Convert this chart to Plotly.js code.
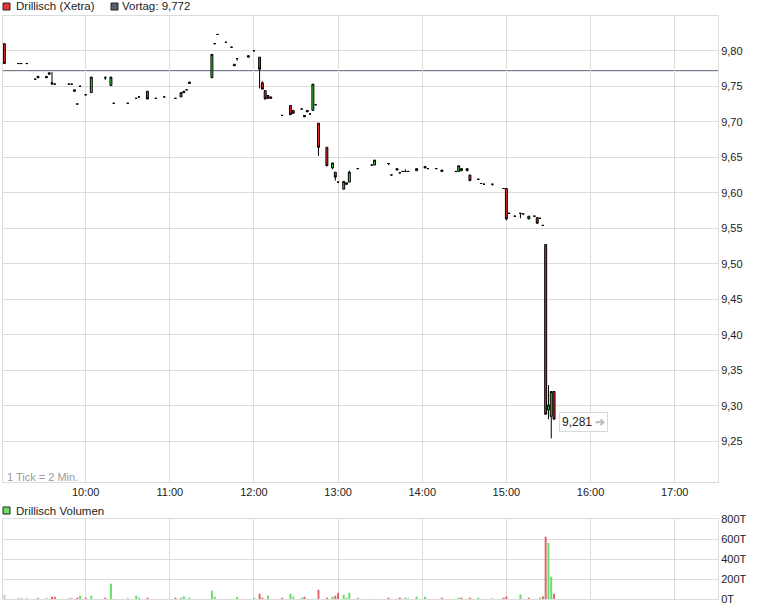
<!DOCTYPE html>
<html>
<head>
<meta charset="utf-8">
<script src="https://cdn.plot.ly/plotly-3.0.1.min.js"></script>
<style>
  html, body { margin: 0; padding: 0; background: #fff; }
  #chart { width: 760px; height: 608px; }
</style>
</head>
<body>
<div id="chart"></div>
<script>
// Drillisch (Xetra), 2-min candles
const day = '2012-06-01 ';
const prevClose = 9.772;

const times = [
  "09:02","09:12","09:14","09:18","09:24","09:26","09:32","09:34","09:36","09:38",
  "09:48","09:50","09:52","09:54","09:56","10:00","10:04","10:14","10:18","10:20",
  "10:30","10:36","10:38","10:44","10:50","10:56","11:04","11:08","11:10","11:12",
  "11:14","11:30","11:32","11:34","11:40","11:44","11:46","11:48","11:56","12:00",
  "12:04","12:06","12:08","12:10","12:12","12:20","12:26","12:28","12:34","12:36",
  "12:38","12:40","12:42","12:44","12:46","12:52","12:56","12:58","13:00","13:04",
  "13:06","13:08","13:14","13:24","13:26","13:36","13:38","13:42","13:44","13:46",
  "13:48","13:50","13:56","14:02","14:04","14:10","14:14","14:24","14:26","14:28",
  "14:32","14:34","14:40","14:42","14:44","14:50","14:58","15:00","15:02","15:06",
  "15:10","15:12","15:16","15:20","15:22","15:24","15:26","15:28","15:30","15:32",
  "15:34"
];

const open = [
  9.810, 9.782, 9.782, 9.782, 9.760, 9.764, 9.764, 9.769, 9.755, 9.753,
  9.753, 9.753, 9.745, 9.725, 9.750, 9.738, 9.741, 9.762, 9.751, 9.726,
  9.726, 9.733, 9.735, 9.743, 9.733, 9.735, 9.733, 9.735, 9.743, 9.745,
  9.756, 9.762, 9.810, 9.823, 9.812, 9.805, 9.781, 9.789, 9.791, 9.800,
  9.791, 9.755, 9.744, 9.737, 9.735, 9.709, 9.723, 9.716, 9.718, 9.709,
  9.716, 9.711, 9.716, 9.724, 9.698, 9.664, 9.635, 9.629, 9.615, 9.605,
  9.614, 9.615, 9.634, 9.639, 9.639, 9.641, 9.625, 9.634, 9.628, 9.630,
  9.630, 9.630, 9.631, 9.637, 9.634, 9.634, 9.632, 9.630, 9.630, 9.631,
  9.631, 9.625, 9.619, 9.613, 9.612, 9.612, 9.606, 9.606, 9.571, 9.567,
  9.571, 9.570, 9.563, 9.567, 9.565, 9.564, 9.554, 9.527, 9.294, 9.285,
  9.320
];

const high = [
  9.810, 9.782, 9.782, 9.782, 9.760, 9.764, 9.764, 9.769, 9.770, 9.753,
  9.753, 9.753, 9.745, 9.725, 9.750, 9.738, 9.763, 9.764, 9.763, 9.726,
  9.726, 9.733, 9.735, 9.743, 9.733, 9.735, 9.733, 9.741, 9.743, 9.745,
  9.756, 9.795, 9.810, 9.823, 9.812, 9.805, 9.781, 9.789, 9.793, 9.800,
  9.791, 9.757, 9.744, 9.737, 9.735, 9.709, 9.723, 9.716, 9.718, 9.709,
  9.716, 9.711, 9.753, 9.724, 9.698, 9.664, 9.642, 9.629, 9.615, 9.616,
  9.614, 9.631, 9.634, 9.639, 9.646, 9.641, 9.625, 9.634, 9.628, 9.630,
  9.633, 9.630, 9.634, 9.637, 9.634, 9.634, 9.632, 9.630, 9.638, 9.634,
  9.634, 9.625, 9.619, 9.613, 9.612, 9.612, 9.606, 9.606, 9.571, 9.567,
  9.571, 9.570, 9.567, 9.567, 9.565, 9.564, 9.554, 9.527, 9.329, 9.320,
  9.320
];

const low = [
  9.782, 9.782, 9.782, 9.782, 9.760, 9.762, 9.762, 9.767, 9.753, 9.753,
  9.753, 9.753, 9.743, 9.725, 9.750, 9.738, 9.741, 9.759, 9.751, 9.726,
  9.726, 9.733, 9.735, 9.732, 9.733, 9.735, 9.733, 9.735, 9.741, 9.745,
  9.754, 9.762, 9.810, 9.823, 9.812, 9.805, 9.779, 9.786, 9.791, 9.800,
  9.747, 9.746, 9.732, 9.733, 9.733, 9.709, 9.710, 9.712, 9.718, 9.707,
  9.714, 9.711, 9.716, 9.724, 9.652, 9.638, 9.633, 9.617, 9.615, 9.605,
  9.612, 9.615, 9.634, 9.639, 9.639, 9.639, 9.625, 9.632, 9.628, 9.630,
  9.630, 9.630, 9.631, 9.635, 9.634, 9.634, 9.630, 9.630, 9.630, 9.631,
  9.631, 9.617, 9.619, 9.613, 9.612, 9.610, 9.606, 9.561, 9.571, 9.567,
  9.564, 9.570, 9.563, 9.567, 9.557, 9.564, 9.554, 9.288, 9.281, 9.254,
  9.281
];

const close = [
  9.782, 9.782, 9.782, 9.782, 9.760, 9.762, 9.762, 9.767, 9.753, 9.753,
  9.753, 9.753, 9.743, 9.725, 9.750, 9.738, 9.763, 9.762, 9.763, 9.726,
  9.726, 9.733, 9.735, 9.732, 9.733, 9.735, 9.733, 9.741, 9.741, 9.745,
  9.754, 9.795, 9.810, 9.823, 9.812, 9.805, 9.779, 9.789, 9.793, 9.800,
  9.774, 9.746, 9.732, 9.733, 9.733, 9.709, 9.710, 9.712, 9.718, 9.707,
  9.714, 9.711, 9.753, 9.724, 9.664, 9.638, 9.642, 9.622, 9.615, 9.616,
  9.612, 9.629, 9.634, 9.639, 9.646, 9.641, 9.625, 9.632, 9.628, 9.630,
  9.630, 9.630, 9.634, 9.635, 9.634, 9.634, 9.630, 9.630, 9.638, 9.634,
  9.634, 9.617, 9.619, 9.613, 9.612, 9.612, 9.606, 9.563, 9.571, 9.567,
  9.571, 9.570, 9.567, 9.567, 9.557, 9.564, 9.554, 9.288, 9.301, 9.320,
  9.281
];

// volume in thousands (T)
const volume = [
  43, 13, 13, 13, 2, 13, 13, 2, 23, 23,
  13, 13, 2, 13, 33, 13, 33, 13, 153, 2,
  13, 33, 13, 13, 2, 2, 13, 13, 27, 2,
  13, 83, 23, 2, 2, 2, 2, 23, 2, 13,
  53, 13, 2, 33, 2, 13, 53, 23, 13, 23,
  2, 2, 2, 2, 93, 13, 23, 33, 63, 43,
  13, 63, 13, 2, 2, 13, 2, 2, 13, 2,
  13, 13, 23, 23, 2, 2, 13, 2, 13, 13,
  2, 13, 13, 2, 2, 13, 13, 27, 2, 2,
  47, 2, 13, 2, 2, 13, 27, 623, 563, 223,
  53
];

// tick direction for each volume bar: 1 up, -1 down, 0 unchanged
const volDir = [
  0, 0, 0, 0, -1, 1, 0, 1, -1, -1,
  0, 0, -1, -1, 1, -1, 1, -1, 1, -1,
  0, 1, 1, -1, 0, 0, -1, 1, 1, 0,
  1, 1, 1, 0, 0, 0, 0, 1, 0, 1,
  -1, -1, 0, 1, 0, -1, 1, 1, 1, -1,
  0, 0, 1, 0, -1, -1, 1, -1, -1, 1,
  1, 1, 1, 0, 0, -1, 0, 0, -1, 0,
  1, 0, 1, 1, 0, 0, -1, 0, 1, -1,
  0, -1, 1, 0, 0, 0, -1, -1, 0, 0,
  1, 0, -1, 0, 0, 1, -1, -1, 1, 1,
  -1
];

const priceTicks = [9.25, 9.30, 9.35, 9.40, 9.45, 9.50, 9.55, 9.60, 9.65, 9.70, 9.75, 9.80];
const volTicks = [0, 200, 400, 600, 800];

const x = times.map(t => day + t);
const grid = '#dcdcdc';
const volColors = volDir.map(d => d > 0 ? '#66dd66' : d < 0 ? '#e06666' : '#c8c8c8');

const fmt = (v, n) => v.toFixed(n).replace('.', ',');

const traces = [
  {
    type: 'candlestick',
    x: x, open: open, high: high, low: low, close: close,
    xaxis: 'x', yaxis: 'y',
    increasing: { line: { color: '#000', width: 1 }, fillcolor: '#33e033' },
    decreasing: { line: { color: '#000', width: 1 }, fillcolor: '#ee2a2a' },
    whiskerwidth: 0,
    hoverinfo: 'skip',
    showlegend: false
  },
  {
    type: 'bar',
    x: x, y: volume,
    xaxis: 'x2', yaxis: 'y2',
    width: 84000,
    marker: { color: volColors, line: { width: 0 } },
    hoverinfo: 'skip',
    showlegend: false
  }
];

const px = p => (p - 3) / 715;
const py = p => (599 - p) / 583;

const layout = {
  width: 760, height: 608,
  margin: { l: 3, r: 42, t: 16, b: 9 },
  paper_bgcolor: '#fff', plot_bgcolor: '#fff',
  separators: ',.',
  font: { family: 'Liberation Sans, Arial, sans-serif', size: 11, color: '#222' },
  showlegend: false,
  boxgap: 0.02,
  xaxis: {
    type: 'date', anchor: 'y', domain: [0, 1],
    range: [day + '09:01:02', day + '17:30:54'],
    tick0: day + '10:00', dtick: 3600000, tickformat: '%H:%M',
    showgrid: true, gridcolor: grid, showline: true, mirror: true, linecolor: grid,
    ticks: '', rangeslider: { visible: false }, fixedrange: true
  },
  yaxis: {
    anchor: 'x', domain: [py(482), 1],
    range: [9.1925, 9.849], side: 'right',
    tickvals: priceTicks, ticktext: priceTicks.map(v => fmt(v, 2)),
    showgrid: true, gridcolor: grid, showline: true, mirror: true, linecolor: grid,
    zeroline: false, ticks: '', fixedrange: true
  },
  xaxis2: {
    type: 'date', anchor: 'y2', matches: 'x', domain: [0, 1],
    tick0: day + '10:00', dtick: 3600000, showticklabels: false,
    showgrid: true, gridcolor: grid, showline: true, mirror: true, linecolor: grid,
    ticks: '', fixedrange: true
  },
  yaxis2: {
    anchor: 'x2', domain: [0, py(519)],
    range: [0, 800], side: 'right',
    tickvals: volTicks, ticktext: volTicks.map(v => v + 'T'),
    showgrid: true, gridcolor: grid, showline: true, mirror: true, linecolor: grid,
    zeroline: false, ticks: '', fixedrange: true
  },
  shapes: [
    { type: 'line', xref: 'paper', x0: 0, x1: 1, yref: 'y', y0: prevClose, y1: prevClose,
      line: { color: '#5c6272', width: 1 }, layer: 'between' },
    { type: 'rect', xref: 'paper', yref: 'paper', x0: px(3), x1: px(10), y0: py(10), y1: py(3),
      fillcolor: '#ee3333', line: { color: '#222', width: 1 } },
    { type: 'rect', xref: 'paper', yref: 'paper', x0: px(111), x1: px(118), y0: py(10), y1: py(3),
      fillcolor: '#5a6070', line: { color: '#222', width: 1 } },
    { type: 'rect', xref: 'paper', yref: 'paper', x0: px(3), x1: px(10), y0: py(514), y1: py(507),
      fillcolor: '#66dd66', line: { color: '#222', width: 1 } }
  ],
  annotations: [
    { xref: 'paper', yref: 'paper', x: px(15), y: py(6.5), xanchor: 'left', yanchor: 'middle',
      text: 'Drillisch (Xetra)', showarrow: false, borderpad: 0, font: { size: 11.5, color: '#222' } },
    { xref: 'paper', yref: 'paper', x: px(121), y: py(6.5), xanchor: 'left', yanchor: 'middle',
      text: 'Vortag: ' + fmt(prevClose, 3), showarrow: false, borderpad: 0, font: { size: 11.5, color: '#222' } },
    { xref: 'paper', yref: 'paper', x: px(15), y: py(510.5), xanchor: 'left', yanchor: 'middle',
      text: 'Drillisch Volumen', showarrow: false, borderpad: 0, font: { size: 11.5, color: '#222' } },
    { xref: 'paper', yref: 'paper', x: px(6), y: py(476.5), xanchor: 'left', yanchor: 'middle',
      text: '1 Tick = 2 Min.', showarrow: false, borderpad: 0, font: { size: 11, color: '#9a9a9a' } },
    { xref: 'x', yref: 'y', x: x[x.length - 1], y: close[close.length - 1],
      xanchor: 'left', yanchor: 'middle', xshift: 5, yshift: -3,
      text: fmt(close[close.length - 1], 3) + ' <span style="color:#bdbdbd;font-weight:bold">➔</span>',
      showarrow: false, bgcolor: '#fff', bordercolor: '#d8d8d8', borderwidth: 1, borderpad: 2,
      font: { size: 12, color: '#222' } }
  ]
};

Plotly.newPlot('chart', traces, layout, { staticPlot: true, displayModeBar: false });
</script>
</body>
</html>
